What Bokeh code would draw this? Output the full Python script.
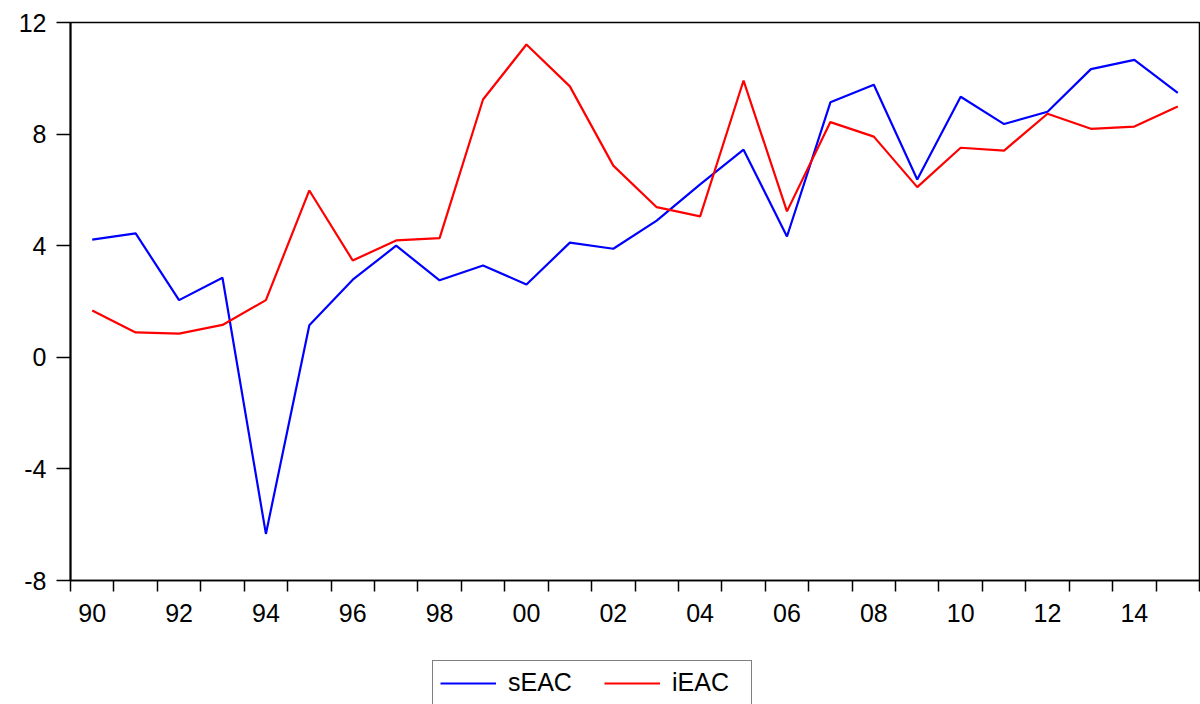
from bokeh.plotting import figure
from bokeh.layouts import column
from bokeh.models import FixedTicker, Legend, LegendItem, Range1d
from bokeh.embed import file_html
from bokeh.resources import INLINE

# Annual series, 1990-2015
years = list(range(1990, 2016))
seac = [4.22, 4.44, 2.05, 2.85, -6.33, 1.15, 2.78, 4.00, 2.76, 3.29,
        2.61, 4.11, 3.89, 4.90, 6.20, 7.44, 4.33, 9.14, 9.77, 6.37,
        9.34, 8.36, 8.80, 10.33, 10.66, 9.48]
ieac = [1.68, 0.89, 0.85, 1.16, 2.05, 5.98, 3.47, 4.19, 4.27, 9.24,
        11.21, 9.71, 6.87, 5.38, 5.05, 9.92, 5.23, 8.43, 7.91, 6.10,
        7.51, 7.41, 8.73, 8.19, 8.27, 8.99]

y_ticks = [-8, -4, 0, 4, 8, 12]
y_tick_labels = ["-8", "-4", "0", "4", "8", "12"]
x_label_years = [1990, 1992, 1994, 1996, 1998, 2000, 2002, 2004, 2006,
                 2008, 2010, 2012, 2014]
x_tick_labels = ["90", "92", "94", "96", "98", "00", "02", "04", "06",
                 "08", "10", "12", "14"]

FONT = "Liberation Sans"
BLUE = "#0000ff"
RED = "#ff0000"

# each year occupies one unit; points sit in the middle of their year
xs = [y + 0.5 for y in years]

p = figure(width=1200, height=640,
           min_border_left=70, min_border_right=1,
           min_border_top=22, min_border_bottom=60,
           x_range=Range1d(years[0], years[-1] + 1),
           y_range=Range1d(y_ticks[0], y_ticks[-1]),
           output_backend="svg", toolbar_location=None,
           background_fill_color="white", border_fill_color="white")

p.xgrid.visible = False
p.ygrid.visible = False
p.outline_line_color = "black"
p.outline_line_width = 1.5

p.line(xs, seac, line_color=BLUE, line_width=2.2)
p.line(xs, ieac, line_color=RED, line_width=2.2)

# y axis
p.yaxis.ticker = FixedTicker(ticks=y_ticks, minor_ticks=[])
p.yaxis.major_label_overrides = dict(zip(y_ticks, y_tick_labels))
p.yaxis.major_tick_out = 14
p.yaxis.major_tick_in = 0
p.yaxis.minor_tick_out = 0
p.yaxis.axis_line_width = 2
p.yaxis.major_tick_line_width = 1.5
p.yaxis.major_label_standoff = 10
p.yaxis.major_label_text_font = FONT
p.yaxis.major_label_text_font_size = "25px"
p.yaxis.major_label_text_color = "black"

# x axis: tick marks on year boundaries, labels centred on even years
label_pos = [y + 0.5 for y in x_label_years]
p.xaxis.ticker = FixedTicker(ticks=label_pos,
                             minor_ticks=list(range(years[0], years[-1] + 2)))
p.xaxis.major_label_overrides = dict(zip(label_pos, x_tick_labels))
p.xaxis.major_tick_out = 0
p.xaxis.major_tick_in = 0
p.xaxis.minor_tick_out = 11
p.xaxis.minor_tick_in = 0
p.xaxis.minor_tick_line_color = "black"
p.xaxis.minor_tick_line_width = 1.5
p.xaxis.axis_line_width = 1.5
p.xaxis.major_label_standoff = 12
p.xaxis.major_label_text_font = FONT
p.xaxis.major_label_text_font_size = "25px"
p.xaxis.major_label_text_color = "black"

# legend strip underneath the chart; its series lie outside the strip's view
lg = figure(width=1200, height=64, min_border=0,
            x_range=Range1d(0, 1), y_range=Range1d(0, 1),
            x_axis_location=None, y_axis_location=None,
            output_backend="svg", toolbar_location=None,
            background_fill_color="white", border_fill_color="white")
lg.outline_line_color = None
lg.xgrid.visible = False
lg.ygrid.visible = False
k1 = lg.line(xs, seac, line_color=BLUE, line_width=2.2)
k2 = lg.line(xs, ieac, line_color=RED, line_width=2.2)

legend = Legend(items=[LegendItem(label="sEAC", renderers=[k1]),
                       LegendItem(label="iEAC", renderers=[k2])],
                orientation="horizontal", location=(362, -1), margin=0,
                label_text_font=FONT, label_text_font_size="25px",
                label_text_color="black",
                glyph_width=56, glyph_height=22, label_height=22,
                label_width=72, label_standoff=12, spacing=24, padding=7,
                border_line_color="black", border_line_width=1.5,
                background_fill_alpha=1.0)
lg.add_layout(legend, "center")

page = column(p, lg, spacing=0)
open("out.html", "w").write(file_html(page, INLINE))
